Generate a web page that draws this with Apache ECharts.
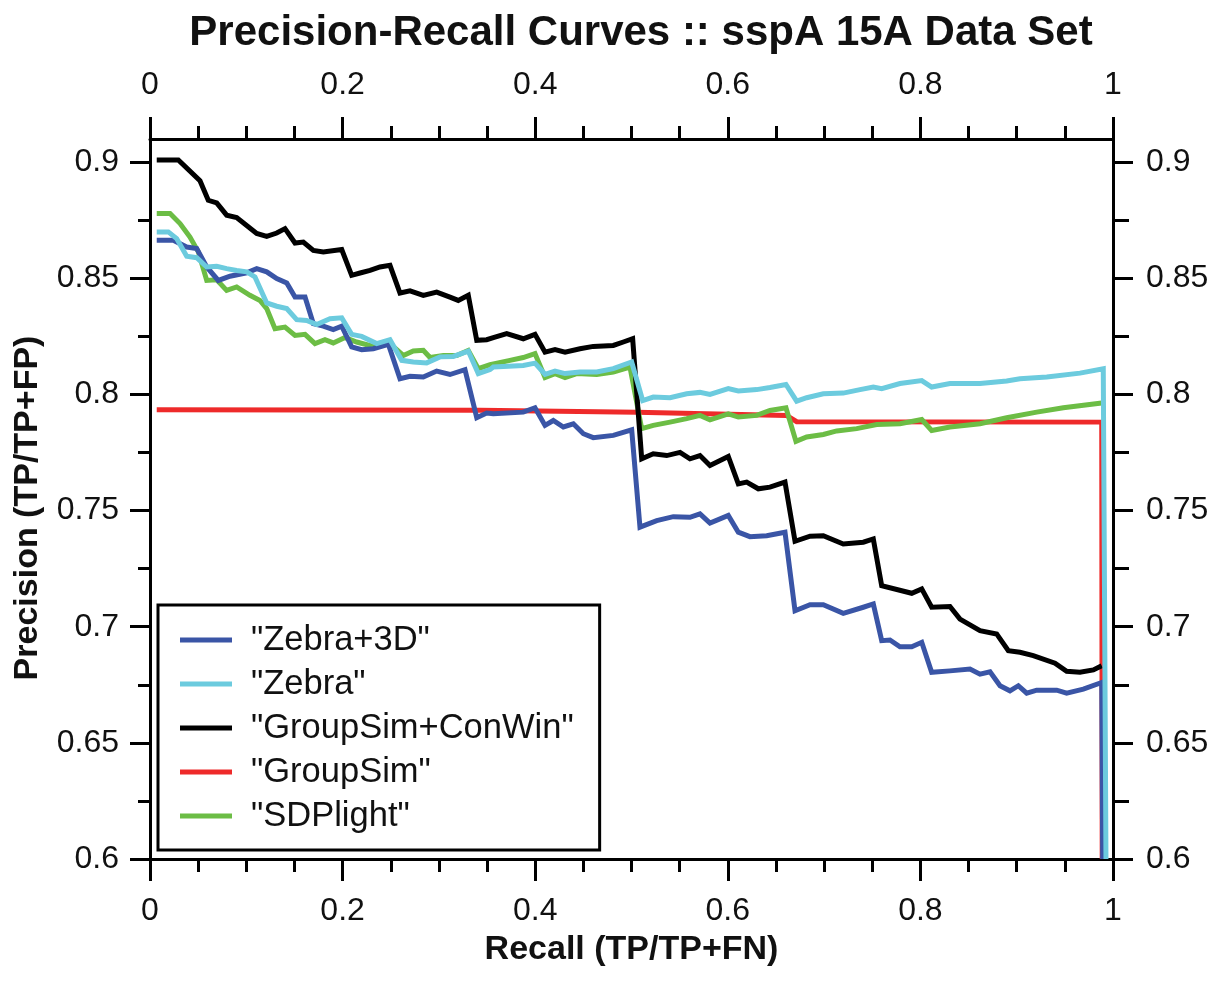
<!DOCTYPE html>
<html>
<head>
<meta charset="utf-8">
<script src="https://cdn.jsdelivr.net/npm/echarts@6/dist/echarts.min.js"></script>
<style>
html,body{margin:0;padding:0;background:#fff;}
#chart{width:1222px;height:985px;}
</style>
</head>
<body>
<div id="chart"></div>
<script>
// ---- data (recall, precision) ----
const seriesNames = ['"Zebra+3D"', '"Zebra"', '"GroupSim+ConWin"', '"GroupSim"', '"SDPlight"'];

const zebra3d = [[0.007,0.8664],[0.0242,0.8664],[0.0381,0.8635],[0.0485,0.8628],[0.0589,0.8549],[0.0709,0.8491],[0.0831,0.8509],[0.1004,0.8524],[0.1108,0.8542],[0.1212,0.8528],[0.1316,0.8499],[0.142,0.848],[0.1506,0.842],[0.161,0.842],[0.1696,0.8305],[0.18,0.8294],[0.1903,0.8279],[0.1991,0.8294],[0.2094,0.8205],[0.2198,0.8193],[0.2319,0.8197],[0.2475,0.8216],[0.2596,0.8068],[0.27,0.8078],[0.2838,0.8075],[0.2977,0.8101],[0.3115,0.8086],[0.3271,0.8107],[0.3393,0.79],[0.3496,0.792],[0.3565,0.7917],[0.3876,0.7924],[0.3998,0.7943],[0.4102,0.7867],[0.4188,0.7888],[0.4292,0.786],[0.4396,0.7874],[0.45,0.7831],[0.4603,0.7814],[0.4811,0.7824],[0.5002,0.7848],[0.5088,0.7429],[0.5262,0.7457],[0.5434,0.7474],[0.5607,0.7471],[0.5711,0.7486],[0.5815,0.7446],[0.6005,0.7479],[0.6109,0.7407],[0.623,0.7388],[0.6404,0.7392],[0.6594,0.7407],[0.6698,0.7069],[0.6854,0.7095],[0.6992,0.7095],[0.7199,0.7058],[0.7407,0.7084],[0.7511,0.7098],[0.7598,0.694],[0.7684,0.6943],[0.7788,0.6914],[0.791,0.6914],[0.8014,0.6933],[0.8117,0.6804],[0.8307,0.681],[0.8515,0.6818],[0.8619,0.6796],[0.8723,0.6806],[0.8827,0.6746],[0.893,0.6724],[0.9017,0.6746],[0.9104,0.6714],[0.9208,0.6727],[0.9416,0.6727],[0.9519,0.6714],[0.9692,0.6731],[0.9883,0.676],[0.9893,0.6]];

const zebra = [[0.007,0.870],[0.019,0.870],[0.0277,0.8671],[0.0381,0.8595],[0.0485,0.8589],[0.0589,0.8549],[0.0693,0.8552],[0.0796,0.8542],[0.09,0.8534],[0.1004,0.8528],[0.109,0.8506],[0.1212,0.8394],[0.1316,0.838],[0.142,0.837],[0.1523,0.8322],[0.1627,0.8319],[0.1731,0.8301],[0.1869,0.8326],[0.1991,0.833],[0.2094,0.8259],[0.2198,0.825],[0.2354,0.8219],[0.2492,0.8236],[0.2614,0.8147],[0.2734,0.814],[0.2873,0.8136],[0.3011,0.8162],[0.315,0.8164],[0.3305,0.8187],[0.3409,0.809],[0.3531,0.8107],[0.3565,0.8118],[0.3876,0.8125],[0.3998,0.8135],[0.4102,0.8087],[0.4206,0.8101],[0.431,0.809],[0.4465,0.8097],[0.4639,0.8097],[0.4811,0.8111],[0.5002,0.814],[0.5116,0.7974],[0.5226,0.7989],[0.54,0.7986],[0.5573,0.8003],[0.5711,0.8009],[0.5815,0.800],[0.6005,0.8025],[0.6109,0.8015],[0.63,0.8021],[0.6438,0.803],[0.6604,0.8043],[0.6715,0.7971],[0.6819,0.7986],[0.6992,0.8003],[0.7199,0.8006],[0.7373,0.8021],[0.7511,0.8032],[0.7598,0.8025],[0.7788,0.8047],[0.8014,0.806],[0.8117,0.8032],[0.8307,0.8047],[0.8619,0.8047],[0.8896,0.8058],[0.9034,0.8068],[0.9312,0.8075],[0.9657,0.8092],[0.9899,0.8111],[0.9927,0.6]];

const groupSimConWin = [[0.007,0.901],[0.0294,0.901],[0.0519,0.892],[0.0605,0.8836],[0.0693,0.8825],[0.0796,0.8772],[0.09,0.8762],[0.1108,0.8693],[0.1212,0.8681],[0.1316,0.8695],[0.1402,0.8714],[0.1506,0.8652],[0.1592,0.8656],[0.1696,0.862],[0.18,0.8614],[0.1991,0.8624],[0.2094,0.8513],[0.2181,0.8523],[0.2285,0.8534],[0.2388,0.8549],[0.2492,0.8556],[0.2596,0.8437],[0.27,0.8446],[0.2838,0.8427],[0.2977,0.8441],[0.3115,0.8419],[0.3201,0.8405],[0.3305,0.8427],[0.3393,0.8233],[0.3496,0.8236],[0.3565,0.8245],[0.3704,0.8262],[0.3876,0.824],[0.3998,0.8259],[0.4102,0.8182],[0.4206,0.8193],[0.431,0.8182],[0.4465,0.8197],[0.4603,0.8207],[0.4811,0.8211],[0.4915,0.8226],[0.5012,0.824],[0.5106,0.7723],[0.5226,0.7745],[0.5366,0.7737],[0.5504,0.7751],[0.5607,0.7723],[0.5711,0.7737],[0.5815,0.7694],[0.6005,0.7733],[0.6109,0.7615],[0.6196,0.7623],[0.6317,0.7594],[0.6438,0.7601],[0.6594,0.7623],[0.6698,0.7368],[0.6854,0.739],[0.6992,0.7392],[0.7199,0.7356],[0.7407,0.7364],[0.7511,0.7378],[0.7598,0.7177],[0.791,0.7144],[0.8014,0.7163],[0.8117,0.7084],[0.8307,0.7087],[0.8411,0.7033],[0.8619,0.6983],[0.8792,0.6969],[0.8913,0.6897],[0.9034,0.689],[0.9172,0.6876],[0.9398,0.6843],[0.9519,0.6808],[0.9657,0.6804],[0.9796,0.6814],[0.9883,0.6832]];

const groupSim = [[0.007,0.7934],[0.3427,0.7932],[0.5054,0.7924],[0.6611,0.791],[0.6715,0.7883],[0.9883,0.7881],[0.9888,0.6]];

const sdpLight = [[0.007,0.8779],[0.0208,0.8779],[0.0312,0.8736],[0.0415,0.8678],[0.0502,0.8614],[0.0589,0.8491],[0.0693,0.8494],[0.0796,0.8448],[0.09,0.8463],[0.1038,0.8427],[0.1142,0.8405],[0.1212,0.837],[0.1298,0.8283],[0.1402,0.829],[0.1506,0.8254],[0.161,0.8259],[0.1713,0.8219],[0.1817,0.8236],[0.1903,0.8222],[0.2025,0.8245],[0.2146,0.8226],[0.2319,0.8207],[0.2492,0.8219],[0.263,0.8168],[0.2734,0.8187],[0.2838,0.819],[0.2908,0.8159],[0.3046,0.8168],[0.3185,0.8168],[0.3305,0.819],[0.3409,0.8111],[0.3531,0.8128],[0.3738,0.8147],[0.3876,0.8159],[0.3998,0.8176],[0.4102,0.8073],[0.4206,0.809],[0.431,0.8073],[0.4431,0.809],[0.4639,0.8086],[0.4811,0.8097],[0.4984,0.8118],[0.5106,0.7853],[0.5226,0.7867],[0.54,0.7881],[0.5573,0.7896],[0.5711,0.791],[0.5815,0.7891],[0.6005,0.7917],[0.6109,0.7903],[0.63,0.791],[0.6438,0.7931],[0.6604,0.7943],[0.6708,0.7798],[0.6819,0.7817],[0.6992,0.7828],[0.7131,0.7843],[0.7338,0.7853],[0.7546,0.7871],[0.7788,0.7874],[0.8014,0.7892],[0.8117,0.7845],[0.8307,0.786],[0.8619,0.7874],[0.8896,0.79],[0.9208,0.7924],[0.9484,0.7943],[0.9883,0.7963]];

// ---- tick values ----
const xMajorTicks = [0, 0.2, 0.4, 0.6, 0.8, 1];
const xMinorTicks = [0.05,0.1,0.15,0.25,0.3,0.35,0.45,0.5,0.55,0.65,0.7,0.75,0.85,0.9,0.95];
const yMajorTicks = [0.6, 0.65, 0.7, 0.75, 0.8, 0.85, 0.9];
const yMinorTicks = [0.625, 0.675, 0.725, 0.775, 0.825, 0.875];

const FONT = '"Liberation Sans", Arial, Helvetica, sans-serif';
const colors = {
  zebra3d: '#3a55a6',
  zebra: '#6ccbde',
  conwin: '#000000',
  groupsim: '#ee2a2a',
  sdp: '#6cbd45'
};

const X_MIN = 0, X_MAX = 1, Y_MIN = 0.6, Y_MAX = 0.91;

function xAx(position, major, show) {
  const vals = major ? xMajorTicks : xMinorTicks;
  return {
    type: 'value', position: position, min: X_MIN, max: X_MAX,
    axisLine: { show: show, onZero: false, lineStyle: { color: '#000', width: 3 } },
    axisTick: { show: true, inside: false, length: major ? 22 : 13, customValues: vals,
                lineStyle: { color: '#000', width: 3 } },
    axisLabel: major ? { show: true, customValues: vals, color: '#111', fontFamily: FONT, fontSize: 32,
                         margin: position === 'bottom' ? 36 : 38,
                         formatter: v => String(v) } : { show: false },
    splitLine: { show: false }
  };
}
function yAx(position, major, show) {
  const vals = major ? yMajorTicks : yMinorTicks;
  return {
    type: 'value', position: position, min: Y_MIN, max: Y_MAX,
    axisLine: { show: show, onZero: false, lineStyle: { color: '#000', width: 3 } },
    axisTick: { show: true, inside: false, length: major ? 20 : (position === 'left' ? 12 : 16), customValues: vals,
                lineStyle: { color: '#000', width: 3 } },
    axisLabel: major ? { show: true, customValues: vals, color: '#111', fontFamily: FONT, fontSize: 32,
                         margin: position === 'left' ? 31 : 33,
                         formatter: v => String(v) } : { show: false },
    splitLine: { show: false }
  };
}

const xAxes = [xAx('bottom', true, true), xAx('bottom', false, false), xAx('top', true, true), xAx('top', false, false)];
xAxes[0].name = 'Recall (TP/TP+FN)';
xAxes[0].nameLocation = 'middle';
xAxes[0].nameGap = 74;
xAxes[0].nameTextStyle = { fontFamily: FONT, fontSize: 34, fontWeight: 'bold', color: '#111' };

const yAxes = [yAx('left', true, true), yAx('left', false, false), yAx('right', true, true), yAx('right', false, false)];

function mk(name, data, color, z) {
  return {
    name: name, type: 'line', data: data, xAxisIndex: 0, yAxisIndex: 0,
    showSymbol: false, symbol: 'none', clip: true, z: z,
    lineStyle: { color: color, width: 5, join: 'miter' }, itemStyle: { color: color },
    emphasis: { disabled: true }
  };
}

const chart = echarts.init(document.getElementById('chart'), null, { renderer: 'canvas' });
chart.setOption({
  animation: false,
  backgroundColor: '#fff',
  title: {
    text: 'Precision-Recall Curves :: sspA 15A Data Set',
    left: 636, top: 7, textAlign: 'center',
    textStyle: { fontFamily: FONT, fontSize: 42, fontWeight: 'bold', color: '#111' }
  },
  grid: { left: 150, right: 109, top: 139, bottom: 126, containLabel: false },
  xAxis: xAxes,
  yAxis: yAxes,
  legend: {
    orient: 'vertical', left: 158, top: 605,
    data: seriesNames,
    icon: 'rect', itemWidth: 52, itemHeight: 5, itemGap: 0,
    padding: [13, 26, 12, 22],
    borderColor: '#000', borderWidth: 3, backgroundColor: '#fff',
    textStyle: { fontFamily: FONT, fontSize: 34.5, color: '#111', lineHeight: 44, padding: [0, 0, 0, 14] },
    selectedMode: false
  },
  graphic: [{
    type: 'text', x: 28, y: 508, rotation: Math.PI / 2,
    style: { text: 'Precision (TP/TP+FP)', font: 'bold 34px ' + FONT, fill: '#111',
             textAlign: 'center', textVerticalAlign: 'middle' }
  }],
  series: [
    mk(seriesNames[3], groupSim, colors.groupsim, 2),
    mk(seriesNames[4], sdpLight, colors.sdp, 3),
    mk(seriesNames[2], groupSimConWin, colors.conwin, 4),
    mk(seriesNames[0], zebra3d, colors.zebra3d, 5),
    mk(seriesNames[1], zebra, colors.zebra, 6)
  ]
});
</script>
</body>
</html>
